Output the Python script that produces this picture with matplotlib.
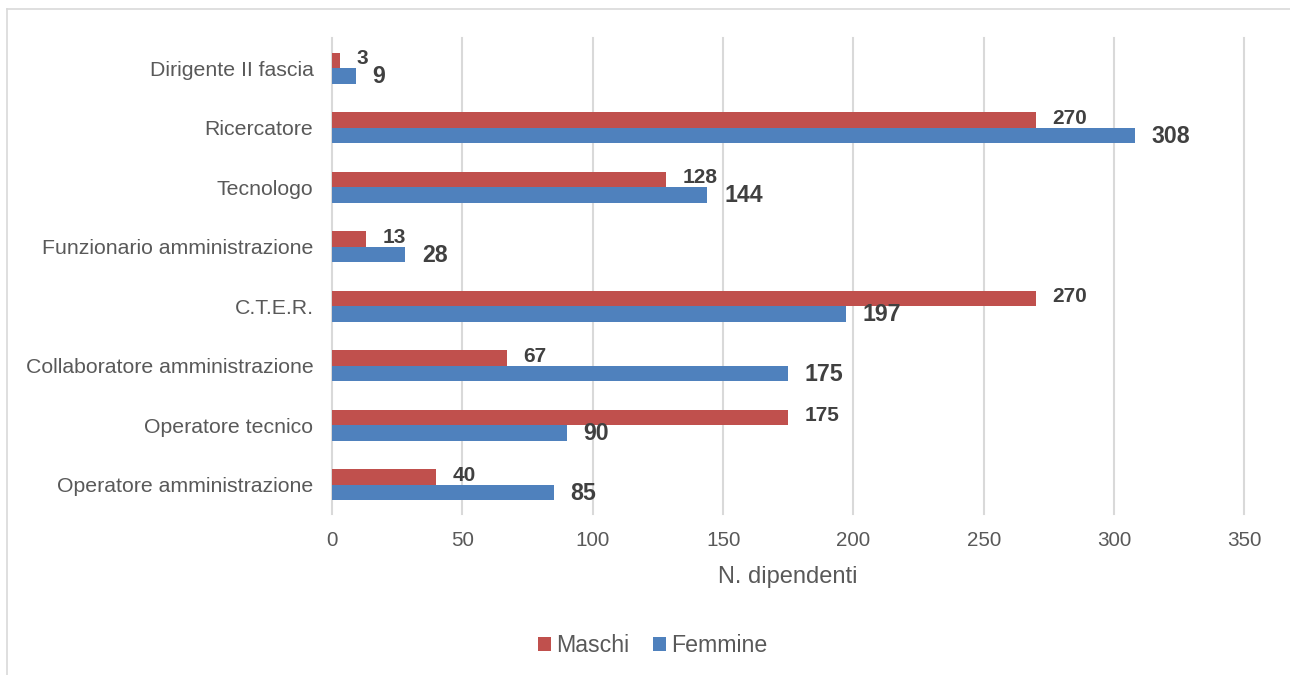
import matplotlib
matplotlib.use("Agg")
import matplotlib.pyplot as plt
from matplotlib.lines import Line2D
import numpy as np

categories = ["Dirigente II fascia", "Ricercatore", "Tecnologo",
              "Funzionario amministrazione", "C.T.E.R.",
              "Collaboratore amministrazione", "Operatore tecnico",
              "Operatore amministrazione"]
maschi = [3, 270, 128, 13, 270, 67, 175, 40]
femmine = [9, 308, 144, 28, 197, 175, 90, 85]
xticks = [0, 50, 100, 150, 200, 250, 300, 350]
series_names = ["Maschi", "Femmine"]

plt.rcParams['font.family'] = ['Liberation Sans', 'DejaVu Sans']

W, H = 1290, 675
fig = plt.figure(figsize=(W / 100, H / 100), dpi=100)
ax = fig.add_axes([332.2 / W, 1 - 514.3 / H, (1244.3 - 332.2) / W, (514.3 - 38.3) / H])

red = "#C0504D"
blue = "#4F81BD"
txt = "#595959"
lab = "#404040"
grid = "#D9D9D9"

y = np.arange(len(categories))
h = 0.26
ax.barh(y - h / 2, maschi, height=h, color=red, label=series_names[0], zorder=2)
ax.barh(y + h / 2, femmine, height=h, color=blue, label=series_names[1], zorder=2)

for yi, v in zip(y, maschi):
    ax.annotate(str(v), (v, yi - h / 2), xytext=(12.0, 1.2), textcoords="offset points",
                ha="left", va="center", fontsize=15, fontweight="bold", color=lab)
for yi, v in zip(y, femmine):
    ax.annotate(str(v), (v, yi + h / 2), xytext=(12.0, -0.8), textcoords="offset points",
                ha="left", va="center", fontsize=16.7, fontweight="bold", color=lab)

ax.set_xlim(0, 350)
ax.set_ylim(len(categories) - 0.5, -0.5)
ax.set_xticks(xticks)
ax.set_yticks(y)
ax.set_yticklabels(categories)
ax.tick_params(axis="x", length=0, pad=12, labelsize=14.9, labelcolor=txt)
ax.tick_params(axis="y", length=0, pad=13.5, labelsize=15.3, labelcolor=txt)
for s in ax.spines.values():
    s.set_visible(False)
ax.set_axisbelow(True)
ax.grid(axis="x", color=grid, linewidth=1.5)
for gl in ax.get_xgridlines():
    gl.set_clip_on(False)

ax.set_xlabel("N. dipendenti", fontsize=17, color=txt)
ax.xaxis.set_label_coords(0.5, 1 - (577 - 38.3) / (514.3 - 38.3))
ax.xaxis.label.set_va("center")

fig.legend(loc="center", bbox_to_anchor=(652.5 / W, 1 - 646 / H), ncol=2, frameon=False,
           fontsize=16.7, handlelength=0.57, handleheight=0.57, handletextpad=0.22,
           columnspacing=1.0, labelcolor=txt)

# outer chart border (top and left visible)
fig.add_artist(Line2D([6.5 / W, 1.0], [1 - 9 / H, 1 - 9 / H], color=grid, lw=1.2,
                      transform=fig.transFigure))
fig.add_artist(Line2D([6.5 / W, 6.5 / W], [0.0, 1 - 9 / H], color=grid, lw=1.2,
                      transform=fig.transFigure))

fig.savefig("out.png", dpi=100)
